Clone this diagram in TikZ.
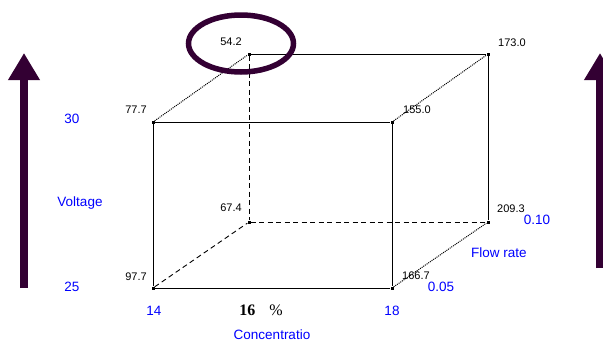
\documentclass[tikz,border=0pt]{standalone}
\usepackage{fontspec}
\setmainfont{Liberation Sans}
\newfontfamily\serifbold{Liberation Serif}
\usepackage{xcolor}
\usetikzlibrary{arrows.meta, positioning, calc}

\definecolor{plum}{RGB}{51,0,51}

\begin{document}
\begin{tikzpicture}[x=1pt, y=-1pt,
  corner/.style={fill=black, inner sep=0pt, minimum size=3pt},
  edge/.style={line width=0.9pt},
  hidden/.style={line width=0.9pt, dash pattern=on 5pt off 3.5pt},
  slant/.style={line width=1pt, dash pattern=on 1pt off 1pt},
  val/.style={font=\fontsize{11}{13}\selectfont, inner sep=0pt},
  axis/.style={font=\fontsize{13.5}{16}\selectfont, text=blue, inner sep=0pt},
  bigarrow/.style={draw=plum, line width=8pt, -{Triangle[length=27pt, width=30pt]}},
  ring/.style={draw=plum, line width=5.5pt}]
\clip (0,0) rectangle (603,343);
\fill[white] (0,0) rectangle (603,343);

% corners of the box
\node[corner] (ftl) at (153,122) {};
\node[corner] (ftr) at (392,122) {};
\node[corner] (fbl) at (153,288) {};
\node[corner] (fbr) at (392,288) {};
\node[corner] (btl) at (249,54) {};
\node[corner] (btr) at (488,54) {};
\node[corner] (bbl) at (249,222) {};
\node[corner] (bbr) at (488,222) {};

\draw[edge] (ftl) -- (ftr);
\draw[edge] (ftr) -- (fbr);
\draw[edge] (fbr) -- (fbl);
\draw[edge] (fbl) -- (ftl);
\draw[edge] (btl) -- (btr);
\draw[edge] (btr) -- (bbr);
\draw[hidden] (btl) -- (bbl);
\draw[hidden] (bbl) -- (bbr);
\draw[hidden] (fbl) -- (bbl);
\draw[slant] (ftl) -- (btl);
\draw[slant] (ftr) -- (btr);
\draw[slant] (fbr) -- (bbr);

% values at the corners
\node[val] (v542) at (231,42) {54.2};
\node[val] (v777) at (136,110) {77.7};
\node[val] (v1730) at (512,43) {173.0};
\node[val] (v1550) at (417,110) {155.0};
\node[val] (v674) at (231,208) {67.4};
\node[val] (v977) at (136,277) {97.7};
\node[val] (v2093) at (511,209) {209.3};
\node[val] (v1667) at (416,276) {166.7};

\draw[ring] ($(v542)+(10,1.5)$) ellipse [x radius=52.5, y radius=28.5];

% factor levels
\node[axis] (volthi) at (72,119) {30};
\node[axis] (voltname) at (80,203) {Voltage};
\node[axis] (voltlo) at (72,287) {25};
\node[axis] (conclo) at (154,311) {14};
\node[axis] (conchi) at (392,311) {18};
\node[axis] (concname) at (272,335) {Concentratio};
\node[axis] (flowhi) at (537,220) {0.10};
\node[axis] (flowname) at (499,253) {Flow rate};
\node[axis] (flowlo) at (441,287) {0.05};
\node[inner sep=0pt] (concmid) at (261,310)
  {\serifbold\fontsize{16}{18}\selectfont{\bfseries 16}\hspace{14pt}\%};

% arrows at the sides
\coordinate (lbase) at (24,288);
\coordinate (ltip) at (24,53);
\coordinate (rbase) at (600,268);
\coordinate (rtip) at (600,53);
\draw[bigarrow] (lbase) -- (ltip);
\draw[bigarrow] (rbase) -- (rtip);
\end{tikzpicture}
\end{document}
